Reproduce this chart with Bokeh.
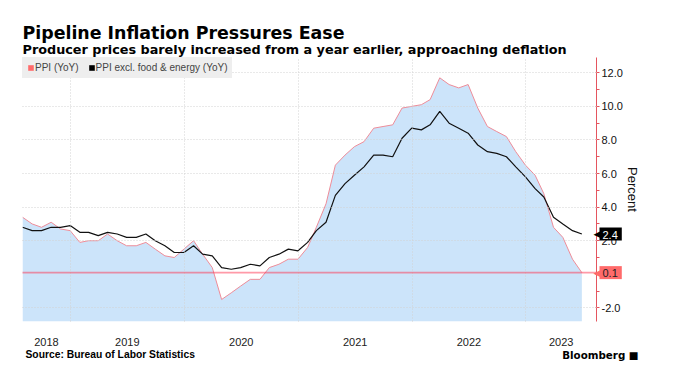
import pandas as pd
from bokeh.plotting import figure
from bokeh.models import (Range1d, FixedTicker, NumeralTickFormatter, Span, Label,
                          Legend, LegendItem)
from bokeh.embed import file_html
from bokeh.resources import INLINE

# ---- data (monthly, Jul 2018 .. Jun 2023) ----
months = pd.date_range("2018-07-31", periods=60, freq="ME")
ppi = [3.4, 3.0, 2.8, 3.1, 2.7, 2.6,
       1.9, 2.0, 2.0, 2.4, 2.0, 1.7, 1.7, 1.9, 1.5, 1.1, 1.0, 1.5,
       2.0, 1.2, 0.4, -1.5, -1.1, -0.7, -0.3, -0.3, 0.4, 0.6, 0.9, 0.9,
       1.6, 2.8, 4.2, 6.5, 7.1, 7.6, 7.9, 8.7, 8.8, 8.9, 9.9, 10.0,
       10.1, 10.4, 11.7, 11.3, 11.1, 11.3, 9.9, 8.8, 8.5, 8.2, 7.3, 6.5,
       5.9, 4.8, 2.8, 2.2, 0.9, 0.1]
core = [2.8, 2.6, 2.6, 2.8, 2.8, 2.9,
        2.5, 2.5, 2.3, 2.5, 2.4, 2.2, 2.2, 2.4, 2.0, 1.7, 1.3, 1.3,
        1.7, 1.2, 1.1, 0.4, 0.3, 0.4, 0.6, 0.5, 1.0, 1.2, 1.5, 1.4,
        1.9, 2.6, 3.1, 4.7, 5.4, 5.9, 6.4, 7.1, 7.1, 7.0, 8.1, 8.7,
        8.6, 8.9, 9.7, 9.0, 8.7, 8.4, 7.7, 7.3, 7.2, 7.0, 6.4, 5.8,
        5.1, 4.6, 3.4, 3.0, 2.6, 2.4]
years = [2018, 2019, 2020, 2021, 2022, 2023]
year_labels = ["2018", "2019", "2020", "2021", "2022", "2023"]
y_ticks = [-2, 0, 2, 4, 6, 8, 10, 12]
y_minor = [-1, 1, 3, 5, 7, 9, 11]
grid_ticks = [-2, 2, 4, 6, 8, 10, 12]

SANS = "Liberation Sans"
BOLD_T = "DejaVu Sans"
NAN = float("nan")

def ms(d):
    return float(pd.Timestamp(d).value // 10**6)

x_start = ms(months[0])
x_end = ms(months[-1] + pd.Timedelta(days=47))
y_lo, y_hi = -2.81, 12.91

p = figure(width=678, height=383, x_axis_type="datetime", y_axis_location="right",
           x_range=Range1d(x_start, x_end), y_range=Range1d(y_lo, y_hi),
           output_backend="svg", toolbar_location=None,
           min_border_left=22, min_border_right=82, min_border_top=57, min_border_bottom=62)
p.outline_line_color = None
p.background_fill_color = "white"
p.border_fill_color = "white"

# titles (side-panel labels, positioned on the canvas)
p.add_layout(Label(x=22, y=32, x_units="canvas", y_units="canvas",
                   text="Pipeline Inflation Pressures Ease", text_font=BOLD_T,
                   text_font_style="bold", text_font_size="17.4px", text_color="#000000",
                   text_baseline="alphabetic"), "above")
p.add_layout(Label(x=22, y=49.3, x_units="canvas", y_units="canvas",
                   text="Producer prices barely increased from a year earlier, approaching deflation",
                   text_font=BOLD_T, text_font_style="bold", text_font_size="12.8px",
                   text_color="#000000", text_baseline="alphabetic"), "above")

# area + lines
p.varea(x=months, y1=y_lo, y2=ppi, fill_color="#cce4fa", fill_alpha=1.0)
p.line(months, ppi, line_color="#ee8c98", line_width=1)
p.line(months, core, line_color="#111111", line_width=1.2)

# legend proxies (not drawn: NaN coordinates)
r_leg_ppi = p.quad(top=[NAN], bottom=[NAN], left=[NAN], right=[NAN], fill_color="#ff6b6b", line_color=None)
r_leg_core = p.quad(top=[NAN], bottom=[NAN], left=[NAN], right=[NAN], fill_color="#000000", line_color=None)
legend = Legend(items=[LegendItem(label="PPI (YoY)", renderers=[r_leg_ppi]),
                       LegendItem(label="PPI excl. food & energy (YoY)", renderers=[r_leg_core])],
                location="top_left", orientation="horizontal", margin=0, padding=5,
                spacing=9, glyph_width=7, glyph_height=7, label_standoff=1,
                label_height=10, label_text_font=SANS, label_text_font_size="10px",
                label_text_color="#444444", background_fill_color="#eeeeee",
                background_fill_alpha=1.0, border_line_alpha=0)
p.add_layout(legend)

# grids
year_starts = [ms(pd.Timestamp(year=y, month=1, day=1)) for y in years[1:]]
p.xgrid.ticker = FixedTicker(ticks=year_starts)
p.ygrid.ticker = FixedTicker(ticks=grid_ticks)
for g in (p.xgrid[0], p.ygrid[0]):
    g.grid_line_color = "#d2d2d2"
    g.grid_line_dash = "1 2"
    g.grid_line_width = 1
    g.level = "guide"

# x axis: year labels centered in visible part of each year
mids = []
for y in years:
    lo = max(x_start, ms(pd.Timestamp(year=y, month=1, day=1)))
    hi = min(x_end, ms(pd.Timestamp(year=y + 1, month=1, day=1)))
    mids.append(float(round((lo + hi) / 2)))
xa = p.xaxis[0]
xa.ticker = FixedTicker(ticks=mids)
xa.major_label_overrides = {m: lab for m, lab in zip(mids, year_labels)}
xa.axis_line_color = None
xa.major_tick_line_color = None
xa.minor_tick_line_color = None
xa.major_label_standoff = 10
xa.major_label_text_font = SANS
xa.major_label_text_font_size = "11px"
xa.major_label_text_color = "#222222"

# right y axis
AX_RED = "#e5555f"
ya = p.yaxis[0]
ya.ticker = FixedTicker(ticks=y_ticks, minor_ticks=y_minor)
ya.formatter = NumeralTickFormatter(format="0.0")
ya.axis_line_color = AX_RED
ya.major_tick_line_color = AX_RED
ya.minor_tick_line_color = AX_RED
ya.major_tick_in = 1
ya.major_tick_out = 3
ya.minor_tick_in = 0
ya.minor_tick_out = 3
ya.major_label_standoff = 2
ya.major_label_text_font = SANS
ya.major_label_text_font_size = "11px"
ya.major_label_text_color = "#111111"
ya.axis_label = "Percent"
ya.axis_label_text_font = SANS
ya.axis_label_text_font_size = "13px"
ya.axis_label_text_font_style = "normal"
ya.axis_label_text_color = "#111111"
ya.axis_label_standoff = -1

# last-value line
p.add_layout(Span(location=ppi[-1], dimension="width", line_color="#ff3550",
                  line_dash="1 1", line_width=1.6))

# value tags (in side panels so they are not clipped to the frame)
tags = [(core[-1], "#000000", "#ffffff", "right", "above"),
        (ppi[-1], "#ff6b6b", "#222222", "left", "right")]
for val, bg, fg, box_side, arrow_side in tags:
    p.add_layout(Label(x=600, y=val, x_units="canvas", y_units="data", text="\u25c0",
                       text_color=bg, text_font=BOLD_T, text_font_size="9px",
                       text_baseline="middle", text_align="right"), arrow_side)
    p.add_layout(Label(x=599, y=val, x_units="canvas", y_units="data",
                       text=f"{val:.1f}", text_color=fg, text_font=SANS,
                       text_font_size="11px", text_baseline="middle", text_align="left",
                       background_fill_color=bg, padding=(3, 4, 3, 2)), box_side)

# footer
p.add_layout(Label(x=25, y=354, x_units="canvas", y_units="canvas",
                   text="Source:  Bureau of Labor Statistics", text_font=SANS,
                   text_font_style="bold", text_font_size="10.3px", text_color="#000000",
                   text_baseline="middle"), "below")
p.add_layout(Label(x=561.7, y=354, x_units="canvas", y_units="canvas",
                   text="Bloomberg \u25a0", text_font=BOLD_T, text_font_style="bold",
                   text_font_size="10.3px", text_color="#000000", text_baseline="middle"), "below")

open("out.html", "w").write(file_html(p, INLINE))
